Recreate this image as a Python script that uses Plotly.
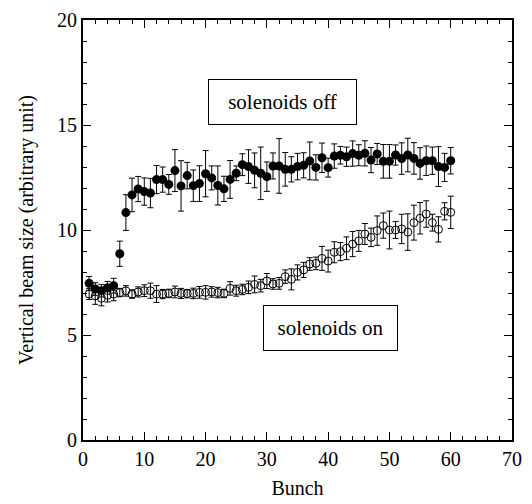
import plotly.graph_objects as go

bunch = list(range(1, 61))

off_y = [7.46, 7.19, 7.11, 7.25, 7.35, 8.87, 10.83, 11.67, 11.95, 11.83,
         11.76, 12.40, 12.40, 12.17, 12.83, 12.10, 12.59, 12.11, 12.21, 12.68,
         12.48, 12.12, 11.96, 12.41, 12.70, 13.11, 13.02, 12.84, 12.70, 12.54,
         13.05, 13.05, 12.89, 12.89, 13.02, 13.08, 13.29, 12.98, 13.44, 12.97,
         13.52, 13.56, 13.49, 13.64, 13.56, 13.65, 13.33, 13.62, 13.27, 13.27,
         13.57, 13.40, 13.57, 13.41, 13.17, 13.30, 13.30, 13.02, 12.98, 13.30]
off_err = [0.33, 0.3, 0.3, 0.3, 0.35, 0.6, 0.85, 0.8, 0.6, 0.65,
           0.7, 0.67, 0.6, 0.47, 1.0, 1.2, 0.63, 0.75, 0.85, 1.1,
           0.57, 0.93, 0.6, 0.9, 0.35, 0.52, 0.8, 0.83, 1.25, 0.7,
           0.62, 1.3, 0.8, 0.6, 0.63, 0.6, 0.9, 0.6, 0.7, 0.45,
           0.58, 0.42, 0.46, 0.6, 0.5, 0.6, 0.6, 0.5, 0.8, 0.8,
           0.48, 0.75, 0.8, 0.75, 0.75, 0.7, 0.65, 0.95, 0.67, 0.63]

on_y = [6.95, 6.86, 6.75, 6.89, 6.95, 7.02, 7.10, 6.95, 7.05, 7.11,
        7.11, 6.95, 6.95, 6.98, 7.05, 6.98, 6.97, 6.98, 7.03, 7.03,
        7.05, 7.02, 6.98, 7.22, 7.11, 7.17, 7.27, 7.41, 7.35, 7.57,
        7.43, 7.46, 7.78, 7.65, 7.98, 8.10, 8.38, 8.41, 8.65, 8.52,
        8.94, 8.97, 9.13, 9.33, 9.48, 9.81, 9.65, 9.97, 10.21, 10.00,
        10.00, 10.05, 9.90, 10.35, 10.56, 10.76, 10.35, 10.03, 10.89, 10.84]
on_err = [0.26, 0.4, 0.36, 0.32, 0.32, 0.2, 0.25, 0.2, 0.24, 0.28,
          0.36, 0.4, 0.22, 0.2, 0.28, 0.24, 0.2, 0.25, 0.28, 0.32,
          0.25, 0.25, 0.2, 0.32, 0.26, 0.25, 0.3, 0.4, 0.3, 0.36,
          0.25, 0.28, 0.32, 0.5, 0.36, 0.36, 0.3, 0.3, 0.57, 0.52,
          0.5, 0.43, 0.54, 0.6, 0.5, 0.5, 0.44, 0.7, 0.6, 0.9,
          0.4, 0.7, 0.87, 0.83, 0.75, 0.63, 0.4, 0.6, 0.41, 0.77]

label_off = "solenoids off"
label_on = "solenoids on"

FF = "Times New Roman, Liberation Serif, serif"

fig = go.Figure()
fig.add_trace(go.Scatter(
    x=bunch, y=off_y, mode="markers",
    marker=dict(symbol="circle", size=9, color="black"),
    error_y=dict(type="data", array=off_err, color="black", thickness=1, width=3),
    showlegend=False))
fig.add_trace(go.Scatter(
    x=bunch, y=on_y, mode="markers",
    marker=dict(symbol="circle-open", size=8, color="black", line=dict(width=1)),
    error_y=dict(type="data", array=on_err, color="black", thickness=1, width=3),
    showlegend=False))

fig.add_annotation(x=32.55, y=16.1, xref="x", yref="y", text=label_off,
                   showarrow=False, font=dict(family=FF, size=21, color="black"),
                   bordercolor="black", borderwidth=1, borderpad=0, width=147, height=44,
                   bgcolor="white")
fig.add_annotation(x=40.4, y=5.33, xref="x", yref="y", text=label_on,
                   showarrow=False, font=dict(family=FF, size=21, color="black"),
                   bordercolor="black", borderwidth=1, borderpad=0, width=133, height=44,
                   bgcolor="white")

axis_common = dict(
    showgrid=False, zeroline=False, showline=True, linecolor="black", linewidth=2,
    ticks="inside", ticklen=8, tickwidth=1, tickcolor="black", automargin=False,
    tickfont=dict(family=FF, size=20, color="black"),
)
xminor = dict(dtick=2, ticks="inside", ticklen=4, tickcolor="black", tickwidth=1)
yminor = dict(dtick=1, ticks="inside", ticklen=4, tickcolor="black", tickwidth=1)

fig.update_layout(
    width=532, height=504,
    margin=dict(l=83, r=20, t=20, b=64),
    paper_bgcolor="white", plot_bgcolor="white",
    font=dict(family=FF, color="black"),
    xaxis=dict(range=[0, 70], dtick=10, tick0=0, minor=xminor,
               title=dict(text="Bunch", font=dict(family=FF, size=20, color="black"), standoff=12),
               **axis_common),
    yaxis=dict(range=[0, 20], dtick=5, tick0=0, minor=yminor,
               title=dict(text="Vertical beam size (arbitrary unit)",
                          font=dict(family=FF, size=20, color="black"), standoff=18),
               **axis_common),
    xaxis2=dict(range=[0, 70], dtick=10, tick0=0, minor=xminor, overlaying="x", side="top",
                anchor="y", showticklabels=False, **axis_common),
    yaxis2=dict(range=[0, 20], dtick=5, tick0=0, minor=yminor, overlaying="y", side="right",
                anchor="x", showticklabels=False, **axis_common),
)
# invisible helper trace so the mirrored axes are drawn
fig.add_trace(go.Scatter(x=[None], y=[None], xaxis="x2", yaxis="y2", showlegend=False,
                         hoverinfo="skip"))

fig.write_html("out.html")
